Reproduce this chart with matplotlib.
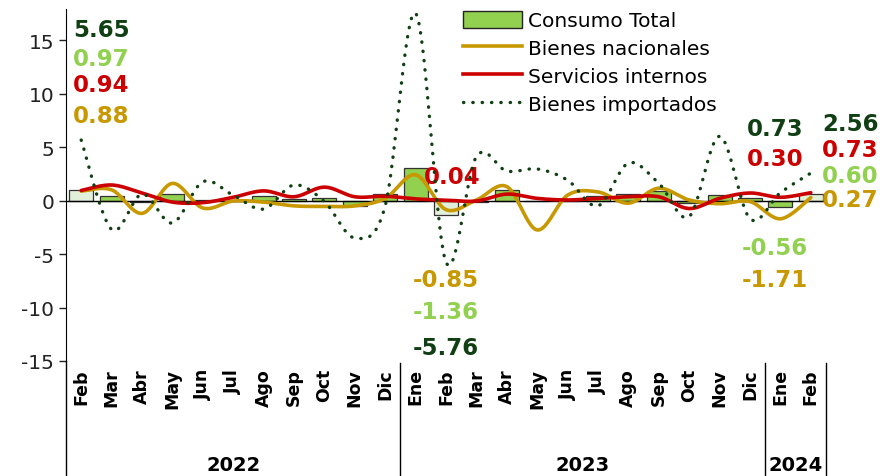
import numpy as np
import matplotlib
matplotlib.use("Agg")
import matplotlib.pyplot as plt
import matplotlib.transforms as mtransforms
from matplotlib.patches import Patch
from matplotlib.lines import Line2D

# --- data ---
months = ["Feb", "Mar", "Abr", "May", "Jun", "Jul", "Ago", "Sep", "Oct", "Nov", "Dic",
          "Ene", "Feb", "Mar", "Abr", "May", "Jun", "Jul", "Ago", "Sep", "Oct", "Nov", "Dic",
          "Ene", "Feb"]
years = ["2022", "2023", "2024"]
year_sizes = [11, 12, 2]

consumo = [0.97, 0.44, -0.15, 0.63, 0.05, -0.05, 0.45, 0.15, 0.25, -0.55, 0.60,
           3.00, -1.36, -0.15, 0.97, -0.05, 0.05, 0.45, 0.60, 0.87, -0.20, 0.55, 0.25,
           -0.56, 0.60]
nacionales = [0.88, 1.00, -1.20, 1.60, -0.70, -0.05, -0.15, -0.50, -0.55, -0.50, 0.20,
              2.40, -0.85, 0.05, 1.30, -2.75, 0.50, 0.80, -0.25, 1.15, 0.05, -0.30, -0.10,
              -1.71, 0.27]
servicios = [0.94, 1.45, 0.70, -0.15, -0.20, 0.30, 0.90, 0.35, 1.25, 0.35, 0.40,
             0.15, 0.04, -0.05, 0.60, 0.20, 0.05, 0.20, 0.35, 0.35, -0.75, 0.20, 0.70,
             0.30, 0.73]
importados = [5.65, -2.70, 0.60, -2.10, 1.75, 0.50, -0.80, 1.45, -0.10, -3.50, -0.50,
              17.50, -5.76, 4.10, 2.75, 2.95, 1.90, -0.50, 3.50, 1.60, -1.50, 6.00, -1.70,
              0.73, 2.56]
highlight = [0, 12, 24]  # same month of each year, lighter bars

C_BAR = "#92D050"
C_BAR_LIGHT = "#E2F0D9"
C_NAC = "#C89800"
C_SERV = "#CC0000"
C_IMP = "#0F3F12"


def smooth(xs, ys, n=24):
    """Excel-like smoothed line (Catmull-Rom as cubic bezier)"""
    xs = np.asarray(xs, float)
    ys = np.asarray(ys, float)
    px, py = [], []
    m = len(xs)
    for i in range(m - 1):
        i0 = max(i - 1, 0)
        i3 = min(i + 2, m - 1)
        p0 = np.array([xs[i0], ys[i0]])
        p1 = np.array([xs[i], ys[i]])
        p2 = np.array([xs[i + 1], ys[i + 1]])
        p3 = np.array([xs[i3], ys[i3]])
        c1 = p1 + (p2 - p0) / 6.0
        c2 = p2 - (p3 - p1) / 6.0
        t = np.linspace(0, 1, n)[:, None]
        pts = ((1 - t) ** 3) * p1 + 3 * ((1 - t) ** 2) * t * c1 + 3 * (1 - t) * t ** 2 * c2 + t ** 3 * p2
        if i > 0:
            pts = pts[1:]
        px.extend(pts[:, 0])
        py.extend(pts[:, 1])
    return np.array(px), np.array(py)


plt.rcParams["font.family"] = ["DejaVu Sans"]
plt.rcParams["axes.unicode_minus"] = False

fig = plt.figure(figsize=(8.85, 4.77), dpi=100)
ax = fig.add_axes([66 / 885, 1 - 362 / 477, 760 / 885, 352 / 477])

x = np.arange(len(months))
colors = [C_BAR_LIGHT if i in highlight else C_BAR for i in x]
ax.bar(x, consumo, width=0.79, color=colors, edgecolor="#333333", linewidth=0.9, zorder=2)
ax.axhline(0, color="black", lw=1.0, zorder=2.5)

sx, sy = smooth(x, nacionales)
ax.plot(sx, sy, color=C_NAC, lw=2.6, zorder=3, solid_capstyle="round")
sx, sy = smooth(x, servicios)
ax.plot(sx, sy, color=C_SERV, lw=2.6, zorder=4, solid_capstyle="round")
sx, sy = smooth(x, importados, n=40)
ax.plot(sx, sy, color=C_IMP, lw=2.4, linestyle=(0, (0.1, 2.7)), dash_capstyle="round", zorder=5)

ax.set_xlim(-0.5, len(months) - 0.5)
ax.set_ylim(-15, 17.9)
ax.set_yticks([-15, -10, -5, 0, 5, 10, 15])
ax.tick_params(axis="y", direction="out", length=5, width=1, labelsize=14.5, colors="#222222")
ax.tick_params(axis="x", bottom=False, labelbottom=False)
for s in ["top", "right", "bottom"]:
    ax.spines[s].set_visible(False)
ax.spines["left"].set_bounds(-15, 17.9)

# category axis below plot
trans = mtransforms.blended_transform_factory(ax.transData, ax.transAxes)
for i, m in enumerate(months):
    ax.text(i, -0.02, m, transform=trans, rotation=90, ha="center", va="top",
            fontsize=12.5, fontweight="bold", clip_on=False)
bounds = [-0.5]
start = -0.5
for yr, n in zip(years, year_sizes):
    end = start + n
    ax.text((start + end) / 2, -0.293, yr, transform=trans, ha="center", va="center",
            fontsize=14, fontweight="bold", clip_on=False)
    bounds.append(end)
    start = end
ax.plot([-0.5, -0.5], [0, -0.33], transform=trans, color="black", lw=1, clip_on=False)
for b in bounds[1:]:
    ax.plot([b, b], [-0.005, -0.33], transform=trans, color="black", lw=1, clip_on=False)

# value labels
lab = dict(fontsize=16.5, fontweight="bold", va="center")
ax.text(-0.26, 16.0, f"{importados[0]:.2f}", color=C_IMP, ha="left", **lab)
ax.text(-0.26, 13.3, f"{consumo[0]:.2f}", color=C_BAR, ha="left", **lab)
ax.text(-0.26, 10.8, f"{servicios[0]:.2f}", color=C_SERV, ha="left", **lab)
ax.text(-0.26, 7.97, f"{nacionales[0]:.2f}", color=C_NAC, ha="left", **lab)

ax.text(12.2, 2.25, f"{servicios[12]:.2f}", color=C_SERV, ha="center", **lab)
ax.text(12.0, -7.4, f"{nacionales[12]:.2f}", color=C_NAC, ha="center", **lab)
ax.text(12.0, -10.4, f"{consumo[12]:.2f}", color=C_BAR, ha="center", **lab)
ax.text(12.0, -13.7, f"{importados[12]:.2f}", color=C_IMP, ha="center", **lab)

ax.text(22.82, 6.75, f"{importados[23]:.2f}", color=C_IMP, ha="center", **lab)
ax.text(22.82, 3.94, f"{servicios[23]:.2f}", color=C_SERV, ha="center", **lab)
ax.text(22.82, -4.4, f"{consumo[23]:.2f}", color=C_BAR, ha="center", **lab)
ax.text(22.82, -7.4, f"{nacionales[23]:.2f}", color=C_NAC, ha="center", **lab)

ax.text(25.29, 7.2, f"{importados[24]:.2f}", color=C_IMP, ha="center", clip_on=False, **lab)
ax.text(25.29, 4.78, f"{servicios[24]:.2f}", color=C_SERV, ha="center", clip_on=False, **lab)
ax.text(25.29, 2.34, f"{consumo[24]:.2f}", color=C_BAR, ha="center", clip_on=False, **lab)
ax.text(25.29, 0.09, f"{nacionales[24]:.2f}", color=C_NAC, ha="center", clip_on=False, **lab)

handles = [
    Patch(facecolor=C_BAR, edgecolor="#222222", linewidth=1.0),
    Line2D([], [], color=C_NAC, lw=2.6),
    Line2D([], [], color=C_SERV, lw=2.6),
    Line2D([], [], color=C_IMP, lw=2.4, linestyle=(0, (0.1, 2.7)), dash_capstyle="round"),
]
ax.legend(handles, ["Consumo Total", "Bienes nacionales", "Servicios internos", "Bienes importados"],
          loc="upper left", bbox_to_anchor=(0.52, 1.0), frameon=False, fontsize=14.5,
          handlelength=2.9, handleheight=0.9, handletextpad=0.3, labelspacing=0.42,
          borderaxespad=0.0, borderpad=0.1)

fig.savefig("out.png", dpi=100)
